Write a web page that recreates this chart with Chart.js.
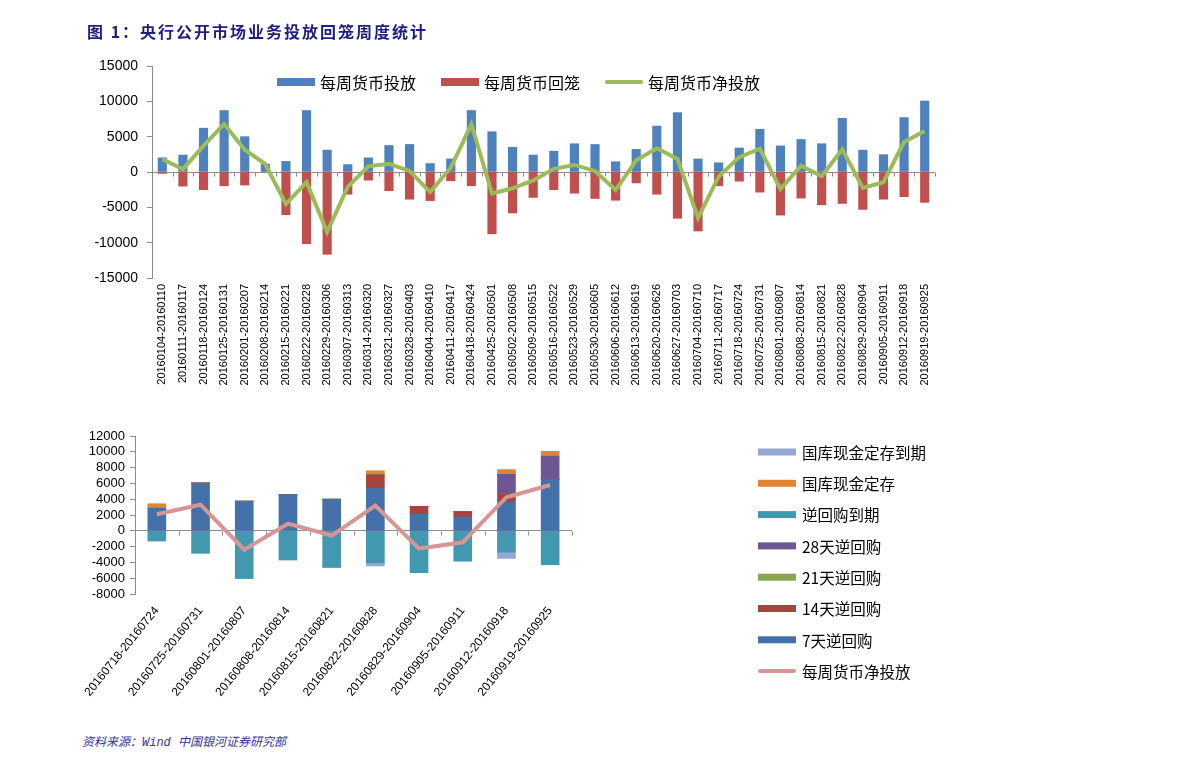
<!DOCTYPE html>
<html lang="zh-CN">
<head>
<meta charset="UTF-8">
<title>央行公开市场业务投放回笼周度统计</title>
<script src="https://cdn.jsdelivr.net/npm/chart.js"></script>
<style>
    body { margin: 0; background: #fff; width: 1191px; height: 768px; position: relative; overflow: hidden; }
    canvas { position: absolute; left: 0; }
    #weekly { top: 0; }
    #repo { top: 400px; }
    #title { position: absolute; left: 87px; top: 19px; font-family: "Noto Sans CJK SC"; font-weight: bold;
             font-size: 16px; letter-spacing: 2px; color: #1f1f80; }
    #source { position: absolute; left: 82px; top: 732px; font-family: "Liberation Mono", "Noto Sans CJK SC";
              font-style: italic; font-size: 12px; color: #33339a; }
</style>
</head>
<body>
<canvas id="weekly" width="1191" height="400"></canvas>
<canvas id="repo" width="1191" height="320"></canvas>
<div id="title">图 1：央行公开市场业务投放回笼周度统计</div>
<div id="source">资料来源：Wind 中国银河证券研究部</div>

<script>
// weekly open market operations, 2016
const weeks = [
    '20160104-20160110', '20160111-20160117', '20160118-20160124', '20160125-20160131',
    '20160201-20160207', '20160208-20160214', '20160215-20160221', '20160222-20160228',
    '20160229-20160306', '20160307-20160313', '20160314-20160320', '20160321-20160327',
    '20160328-20160403', '20160404-20160410', '20160411-20160417', '20160418-20160424',
    '20160425-20160501', '20160502-20160508', '20160509-20160515', '20160516-20160522',
    '20160523-20160529', '20160530-20160605', '20160606-20160612', '20160613-20160619',
    '20160620-20160626', '20160627-20160703', '20160704-20160710', '20160711-20160717',
    '20160718-20160724', '20160725-20160731', '20160801-20160807', '20160808-20160814',
    '20160815-20160821', '20160822-20160828', '20160829-20160904', '20160905-20160911',
    '20160912-20160918', '20160919-20160925'
];
const injection = [
    2000, 2400, 6200, 8700, 5000, 1100, 1500, 8700, 3100, 1050,
    2000, 3750, 3900, 1200, 1850, 8700, 5700, 3500, 2400, 2950,
    4000, 3900, 1450, 3200, 6500, 8400, 1850, 1300, 3400, 6050,
    3700, 4600, 4000, 7600, 3100, 2450, 7700, 10050
];
const withdrawal = [
    -200, -2000, -2500, -1950, -1850, 0, -6050, -10150, -11650, -3150,
    -1150, -2650, -3850, -4050, -1250, -1950, -8750, -5800, -3600, -2500,
    -3000, -3750, -4000, -1550, -3150, -6550, -8350, -1950, -1300, -2850,
    -6100, -3700, -4650, -4450, -5300, -3850, -3500, -4300
];
const netInjection = [
    1850, 400, 3700, 6800, 3150, 1100, -4550, -1450, -8500, -2100,
    800, 1150, 150, -2850, 600, 6750, -3050, -2300, -1200, 450,
    1000, 150, -2550, 1650, 3350, 1850, -6500, -650, 2100, 3300,
    -2400, 900, -600, 3200, -2250, -1450, 4250, 5800
];

// last ten weeks, by instrument
const repoWeeks = weeks.slice(-10);
const repo7d = [2850, 6050, 3750, 4600, 4000, 5400, 2100, 1750, 3650, 6500];
const repo14d = [0, 0, 0, 0, 0, 1700, 1000, 700, 1000, 0];
const repo21d = [0, 0, 0, 0, 0, 0, 0, 0, 0, 0];
const repo28d = [0, 0, 0, 0, 0, 0, 0, 0, 2500, 2950];
const repoMaturity = [-1300, -2850, -6050, -3700, -4650, -4050, -5300, -3850, -2700, -4300];
const treasuryDeposit = [550, 0, 0, 0, 0, 500, 0, 0, 600, 600];
const treasuryMaturity = [0, 0, 0, 0, 0, -400, 0, 0, -800, 0];
const repoNet = netInjection.slice(-10);

const latin = '"Liberation Sans", Arial, sans-serif';
const cjk = '"Noto Sans CJK SC", sans-serif';

// legend drawn at a fixed spot, inside the plot like the original
const boxLegend = {
    id: 'boxLegend',
    afterDraw(chart, args, opts) {
        const ctx = chart.ctx;
        ctx.save();
        ctx.font = opts.font;
        ctx.textBaseline = 'middle';
        let x = opts.x, y = opts.y;
        opts.order.forEach(i => {
            const ds = chart.data.datasets[i];
            if (ds.type === 'line') {
                ctx.strokeStyle = ds.borderColor;
                ctx.lineWidth = opts.lineWidth;
                ctx.lineCap = 'round';
                ctx.beginPath();
                ctx.moveTo(x + 2, y);
                ctx.lineTo(x + opts.boxWidth - 2, y);
                ctx.stroke();
            } else {
                ctx.fillStyle = ds.backgroundColor;
                ctx.fillRect(x, y - opts.boxHeight / 2, opts.boxWidth, opts.boxHeight);
            }
            ctx.fillStyle = '#000';
            ctx.fillText(ds.label, x + opts.boxWidth + opts.gap, y + 1);
            if (opts.row) {
                x += opts.boxWidth + opts.gap + ctx.measureText(ds.label).width + opts.spacing;
            } else {
                y += opts.spacing;
            }
        });
        ctx.restore();
    }
};

// small tick marks on the zero line between categories
const zeroTicks = {
    id: 'zeroTicks',
    beforeDatasetsDraw(chart) {
        const xs = chart.scales.x, ys = chart.scales.y;
        const y0 = Math.round(ys.getPixelForValue(0)) + 0.5;
        const step = xs.getPixelForValue(1) - xs.getPixelForValue(0);
        const ctx = chart.ctx;
        ctx.save();
        ctx.strokeStyle = '#8c8c8c';
        ctx.lineWidth = 1;
        ctx.beginPath();
        for (let i = 0; i <= chart.data.labels.length; i++) {
            const px = Math.round(xs.getPixelForValue(0) + (i - 0.5) * step) + 0.5;
            ctx.moveTo(px, y0);
            ctx.lineTo(px, y0 + 4);
        }
        ctx.stroke();
        ctx.restore();
    }
};

function valueAxis(min, max, step, fontSize, width, pad) {
    return {
        min: min, max: max, stacked: true,
        afterFit: s => { s.width = width; },
        border: { display: true, color: '#8c8c8c' },
        grid: {
            color: c => c.tick.value === 0 ? '#8c8c8c' : 'transparent',
            tickColor: '#8c8c8c', tickLength: 5, drawTicks: true
        },
        ticks: { stepSize: step, padding: pad, autoSkip: false, color: '#000',
                 font: { family: latin, size: fontSize }, callback: v => String(v) }
    };
}

new Chart(document.getElementById('weekly'), {
    type: 'bar',
    data: {
        labels: weeks,
        datasets: [
            { label: '每周货币投放', data: injection, backgroundColor: '#4f81bd', barThickness: 8.5, order: 1 },
            { label: '每周货币回笼', data: withdrawal, backgroundColor: '#c0504d', barThickness: 8.5, order: 1 },
            { type: 'line', label: '每周货币净投放', data: netInjection, borderColor: '#9bbb59', borderWidth: 4,
              pointRadius: 0, tension: 0, stack: 'net', order: 0 }
        ]
    },
    options: {
        responsive: false, animation: false,
        layout: { padding: { left: 30, right: 256, top: 66, bottom: 7 } },
        scales: {
            x: {
                stacked: true,
                afterFit: s => { s.height = 115; },
                grid: { display: false, drawTicks: false },
                border: { display: false },
                ticks: { autoSkip: false, minRotation: 90, maxRotation: 90, padding: 6, color: '#000',
                         font: { family: latin, size: 11 } }
            },
            y: valueAxis(-15000, 15000, 5000, 14, 122, 9)
        },
        plugins: {
            legend: { display: false },
            tooltip: { enabled: false },
            boxLegend: { row: true, x: 277, y: 82, order: [0, 1, 2], font: '16px ' + cjk,
                         boxWidth: 38, boxHeight: 8, lineWidth: 4, gap: 5, spacing: 25 }
        }
    },
    plugins: [zeroTicks, boxLegend]
});

new Chart(document.getElementById('repo'), {
    type: 'bar',
    data: {
        labels: repoWeeks,
        datasets: [
            { label: '7天逆回购', data: repo7d, backgroundColor: '#4471a9' },
            { label: '14天逆回购', data: repo14d, backgroundColor: '#a9433f' },
            { label: '21天逆回购', data: repo21d, backgroundColor: '#8ba650' },
            { label: '28天逆回购', data: repo28d, backgroundColor: '#6e5594' },
            { label: '逆回购到期', data: repoMaturity, backgroundColor: '#4198af' },
            { label: '国库现金定存', data: treasuryDeposit, backgroundColor: '#df8533' },
            { label: '国库现金定存到期', data: treasuryMaturity, backgroundColor: '#95a8d5' },
            { type: 'line', label: '每周货币净投放', data: repoNet, borderColor: '#d79694', borderWidth: 4,
              pointRadius: 0, tension: 0, stack: 'net', order: 0 }
        ].map(d => d.type ? d : Object.assign(d, { barThickness: 18, order: 1 }))
    },
    options: {
        responsive: false, animation: false,
        layout: { padding: { left: 25, right: 619, top: 36, bottom: 16 } },
        scales: {
            x: {
                stacked: true,
                afterFit: s => { s.height = 110; },
                grid: { display: false, drawTicks: false },
                border: { display: false },
                ticks: { autoSkip: false, minRotation: 51, maxRotation: 51, padding: 10, color: '#000',
                         font: { family: latin, size: 12 } }
            },
            y: valueAxis(-8000, 12000, 2000, 13, 110, 5)
        },
        plugins: {
            legend: { display: false },
            tooltip: { enabled: false },
            boxLegend: { row: false, x: 758, y: 52, order: [6, 5, 4, 3, 2, 1, 0, 7], font: '15.5px ' + cjk,
                         boxWidth: 38, boxHeight: 7, lineWidth: 4, gap: 6, spacing: 31.3 }
        }
    },
    plugins: [zeroTicks, boxLegend]
});
</script>
</body>
</html>
